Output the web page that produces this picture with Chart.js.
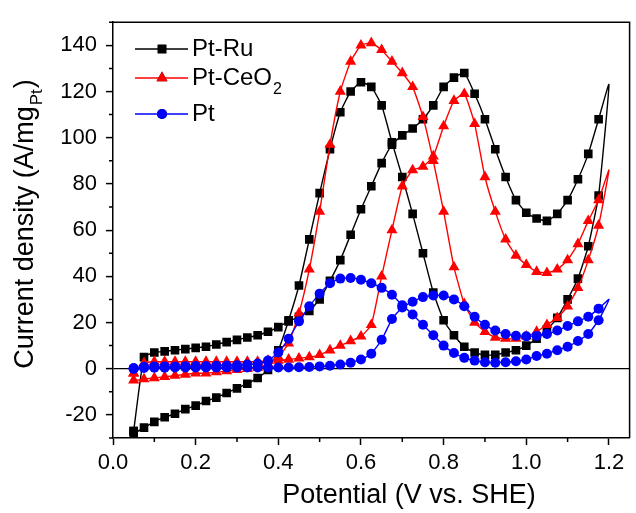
<!DOCTYPE html>
<html><head><meta charset="utf-8">
<script src="https://cdn.jsdelivr.net/npm/chart.js@4/dist/chart.umd.min.js"></script>
<style>html,body{margin:0;padding:0;background:#fff}#wrap{width:636px;height:513px;position:relative}</style>
</head><body><div id="wrap"><canvas id="c" width="636" height="513"></canvas></div>
<script>
// Potential grid (V vs. SHE), shared by the anodic and cathodic sweeps
const potential = [0.05,0.075,0.1,0.125,0.15,0.175,0.2,0.225,0.25,0.275,0.3,0.325,0.35,0.375,0.4,0.425,0.45,0.475,0.5,0.525,0.55,0.575,0.6,0.625,0.65,0.675,0.7,0.725,0.75,0.775,0.8,0.825,0.85,0.875,0.9,0.925,0.95,0.975,1.0,1.025,1.05,1.075,1.1,1.125,1.15,1.175,1.2];

// Pt-Ru (A/mg_Pt): forward (anodic) and backward (cathodic) sweeps, listed at the potentials above
const ptRuForward  = [-27,5,7,7.5,8,8.5,9,9.5,10.5,11.5,12.5,13.5,14.5,16,18,20.5,22.5,25,30,38,47,58,69,79,89,97,101,104,108,114,122,126,128,119,108,95,83,73,67.5,65,64,67,73,82,93,108,123];
const ptRuBackward = [-28,-25.5,-23,-21,-19.5,-17.5,-16,-14,-12.5,-10.5,-8.5,-6.5,-4,-0.5,8,21,36,56,76,95,111,120,124,122,114,98,83,67,50,33,21,14.5,9.5,7,6,6,7,8,10,13,17,22,30,39,53,75,123];

// Pt-CeO2
const ptCeForward  = [-2,2.5,3,3,3,3,3,3,3,3,3,3,3,3.5,3.5,4,4.5,5,6,8,10,12,14,19,40,60,79,86,87.5,92,105,116,119,106,83,68,56,49,45,42,41.5,43,47,54,64,73,86];
const ptCeBackward = [-5,-4.5,-4,-3.5,-3,-2.5,-2,-2,-1.5,-1,-0.5,0,0.5,2,5,11,24,43,68,97,120,133,140,141,138,133,128,122,109,90,68,44,28,20,16,13.5,13,13,14,16,19,22,27,35,47,62,86];

// Pt
const ptForward  = [0,0.3,0.4,0.4,0.5,0.5,0.5,0.5,0.5,0.5,0.5,0.5,0.5,0.5,0.5,0.5,0.6,0.7,1,1.3,1.8,2.6,4,6.5,12.5,21.5,26.5,29,31,31.7,31.7,30,27,22.5,19,16.5,15,14.3,14,14.2,15,16.5,18.5,20.5,22.5,26,30];
const ptBackward = [0.3,0.8,1,1,1,1.1,1.2,1.2,1.3,1.4,1.5,1.8,2.2,3.5,7,13,20.5,27,32.5,37,39,39.3,38.5,37,35,32,27.5,23.5,19,14.5,10,6.8,4.7,3.5,2.8,2.6,2.8,3.2,4,5.5,6.5,8,9.5,12,15,21,30];

const seriesNames = ['Pt-Ru','Pt-CeO','Pt'];
const xTickValues = [0,0.2,0.4,0.6,0.8,1.0,1.2];
const xTickLabels = ['0.0','0.2','0.4','0.6','0.8','1.0','1.2'];
const yTickValues = [-20,0,20,40,60,80,100,120,140];
const yTickLabels = ['-20','0','20','40','60','80','100','120','140'];
const xMinorTicks = [0.1,0.3,0.5,0.7,0.9,1.1];
const yMinorTicks = [-30,-10,10,30,50,70,90,110,130,150];

function loop(fwd, bwd){
  const pts = potential.map((x,i)=>({x:x, y:fwd[i]}));
  for (let i = potential.length-2; i >= 0; i--) pts.push({x:potential[i], y:bwd[i]});
  pts.push({x:potential[0], y:fwd[0]});
  return pts;
}

const FONT = '"Liberation Sans", Arial, sans-serif';

const styles = [
  {color:'#000000', point:'rect', r:6.1, order:2},
  {color:'#ff0000', point:'triangle', r:6.4, order:1},
  {color:'#0000ff', point:'circle', r:5, order:0}
];
const loops = [loop(ptRuForward, ptRuBackward), loop(ptCeForward, ptCeBackward), loop(ptForward, ptBackward)];

const datasets = loops.map((d,i)=>({
  label: seriesNames[i],
  data: d,
  showLine: true,
  borderColor: styles[i].color,
  backgroundColor: styles[i].color,
  borderWidth: 1.4,
  pointStyle: styles[i].point,
  pointRadius: ctx => (ctx.raw && ctx.raw.x >= 1.2) ? 0 : styles[i].r,
  pointBorderWidth: 0,
  pointBackgroundColor: styles[i].color,
  tension: 0.15,
  order: styles[i].order
}));

const decor = {
  id:'decor',
  afterDraw(chart){
    const ctx = chart.ctx, a = chart.chartArea;
    const xs = chart.scales.x, ys = chart.scales.y;
    ctx.save();
    ctx.strokeStyle = '#000'; ctx.lineWidth = 1.5;
    ctx.beginPath();
    ctx.moveTo(a.left, a.top); ctx.lineTo(a.right, a.top); ctx.lineTo(a.right, a.bottom);
    ctx.stroke();
    ctx.beginPath();
    xMinorTicks.forEach(v=>{const p=xs.getPixelForValue(v); ctx.moveTo(p,a.bottom); ctx.lineTo(p,a.bottom+4);});
    yMinorTicks.forEach(v=>{const p=ys.getPixelForValue(v); ctx.moveTo(a.left,p); ctx.lineTo(a.left-4,p);});
    ctx.stroke();

    const ly = [49, 78, 114];
    chart.data.datasets.forEach((ds,i)=>{
      ctx.strokeStyle = ds.borderColor; ctx.lineWidth = 1.5;
      ctx.beginPath(); ctx.moveTo(135, ly[i]); ctx.lineTo(188, ly[i]); ctx.stroke();
      Chart.helpers.drawPoint(ctx, {pointStyle: ds.pointStyle, radius: styles[i].r, borderWidth:0}, 162, ly[i]);
      ctx.fillStyle = ds.borderColor; ctx.fill();
      ctx.fillStyle = '#000';
      ctx.font = '24px ' + FONT; ctx.textBaseline = 'middle'; ctx.textAlign = 'left';
      ctx.fillText(seriesNames[i], 192, ly[i]);
      if (i === 1) {
        const w = ctx.measureText(seriesNames[i]).width;
        ctx.font = '16px ' + FONT;
        ctx.fillText('2', 192 + w + 1, ly[i] + 12);
      }
    });

    ctx.fillStyle = '#000';
    ctx.font = '27px ' + FONT; ctx.textAlign = 'center'; ctx.textBaseline = 'middle';
    ctx.fillText('Potential (V vs. SHE)', 409, 496);

    ctx.save();
    ctx.translate(33, 224);
    ctx.rotate(-Math.PI/2);
    ctx.textAlign = 'left'; ctx.textBaseline = 'alphabetic';
    const main = 'Current density (A/mg';
    ctx.font = '27px ' + FONT; const w1 = ctx.measureText(main).width;
    ctx.font = '17px ' + FONT; const w2 = ctx.measureText('Pt').width;
    ctx.font = '27px ' + FONT; const w3 = ctx.measureText(')').width;
    const total = w1 + w2 + w3 + 2;
    let x0 = -total/2;
    ctx.fillText(main, x0, 0);
    ctx.font = '17px ' + FONT; ctx.fillText('Pt', x0 + w1 + 1, 9);
    ctx.font = '27px ' + FONT; ctx.fillText(')', x0 + w1 + w2 + 2, 0);
    ctx.restore();
    ctx.restore();
  }
};

new Chart(document.getElementById('c'), {
  type: 'scatter',
  data: { datasets: datasets },
  options: {
    responsive: false, animation: false, devicePixelRatio: 1,
    layout: { padding: {top: 13, right: 0, left: 0, bottom: 0} },
    plugins: { legend: {display:false}, tooltip: {enabled:false} },
    scales: {
      x: {
        type:'linear', min:0, max:1.25,
        afterBuildTicks: s => { s.ticks = xTickValues.map(v=>({value:v})); },
        afterFit: s => { s.height = 75; },
        ticks: { callback: (v,i) => xTickLabels[i], color:'#000', font:{family:FONT, size:22}, padding:5, maxRotation:0, autoSkip:false },
        grid: { drawOnChartArea:false, tickLength:7, tickColor:'#000', tickWidth:1.5 },
        border: { color:'#000', width:1.5 }
      },
      y: {
        type:'linear', min:-30, max:150,
        afterBuildTicks: s => { s.ticks = yTickValues.map(v=>({value:v})); },
        afterFit: s => { s.width = 113; },
        ticks: { callback: (v,i) => yTickLabels[i], color:'#000', font:{family:FONT, size:22}, padding:9, autoSkip:false },
        grid: { drawOnChartArea:true, color: c => (c.tick && c.tick.value === 0) ? '#000' : 'rgba(0,0,0,0)', lineWidth:1.2, tickLength:7, tickColor:'#000', tickWidth:1.5 },
        border: { color:'#000', width:1.5 }
      }
    }
  },
  plugins: [decor]
});
</script>
</body></html>
